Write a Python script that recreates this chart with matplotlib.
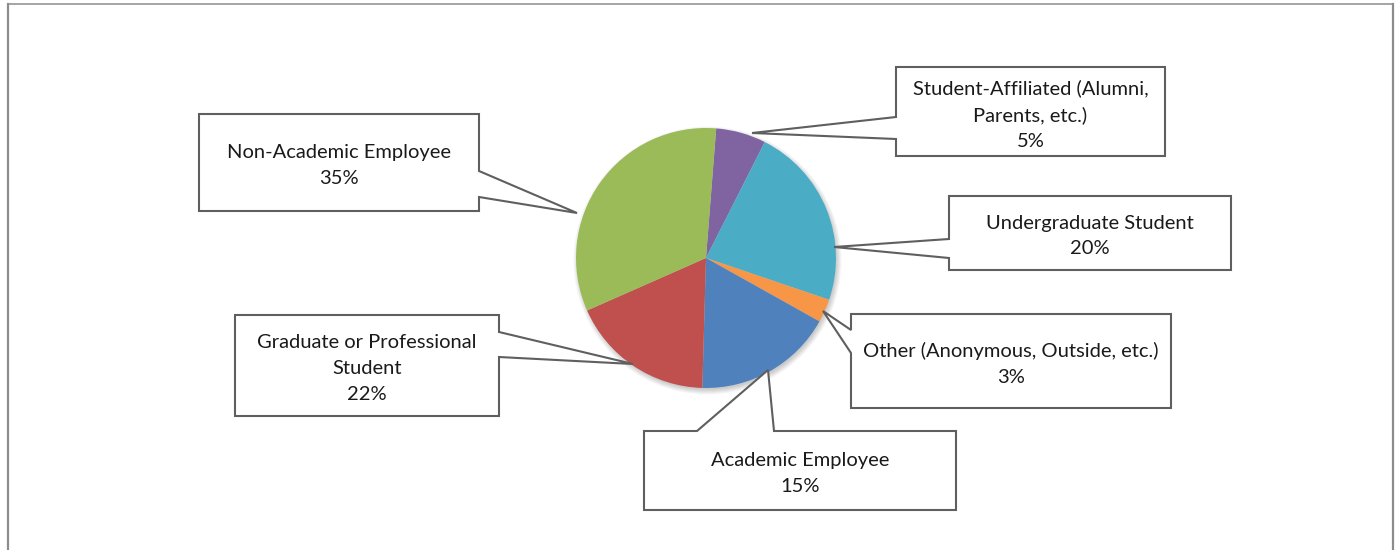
import textwrap
import matplotlib
matplotlib.use("Agg")
import matplotlib.pyplot as plt
from matplotlib.patches import Polygon, Circle
from matplotlib.lines import Line2D

# slices in drawing order, clockwise from near 12 o'clock
categories = [
    "Student-Affiliated (Alumni, Parents, etc.)",
    "Undergraduate Student",
    "Other (Anonymous, Outside, etc.)",
    "Academic Employee",
    "Graduate or Professional Student",
    "Non-Academic Employee",
]
# wedge sizes as drawn in the picture
shares = [6.2, 22.7, 2.9, 17.3, 17.9, 32.8]
# percentages printed on the callouts
pct_labels = ["5%", "20%", "3%", "15%", "22%", "35%"]
colors = ["#8064A2", "#4BACC6", "#F79646", "#4F81BD", "#C0504D", "#9BBB59"]

W, H = 1396, 550

# callout layout in pixels: box (left, top, right, bottom), side of notch,
# notch start/end along that side, tip point, wrap width
callouts = [
    ((896, 67, 1165, 156), "left", (117, 139), (752, 133), 27),
    ((949, 196, 1231, 270), "left", (239, 258), (834, 247), 30),
    ((851, 314, 1171, 408), "left", (330, 353), (823, 311), 40),
    ((644, 431, 956, 510), "top", (697, 774), (768, 370), 30),
    ((235, 315, 499, 416), "right", (332, 357), (633, 364), 24),
    ((199, 114, 479, 211), "right", (171, 197), (577, 213), 30),
]


def py(y):
    # pixel row (top-down) to data y (bottom-up)
    return H - y


def callout_shape(box, side, notch, tip):
    l, t, r, b = box
    if side == "right":
        pts = [(l, t), (r, t), (r, notch[0]), tip, (r, notch[1]), (r, b), (l, b)]
    elif side == "left":
        pts = [(l, t), (r, t), (r, b), (l, b), (l, notch[1]), tip, (l, notch[0])]
    else:
        pts = [(l, t), (notch[0], t), tip, (notch[1], t), (r, t), (r, b), (l, b)]
    return [(x, py(y)) for x, y in pts]


def main():
    fig = plt.figure(figsize=(W / 100, H / 100), dpi=100)
    ax = fig.add_axes([0, 0, 1, 1])

    cx, cy, rad = 706, py(258), 130

    # soft shadow under the pie
    for k in range(6):
        ax.add_patch(Circle((cx + 1.5, cy - 2.5), rad + 4 - k, color="#000000",
                            alpha=0.035, lw=0, zorder=1))

    ax.pie(shares, colors=colors, startangle=85.5, counterclock=False,
           center=(cx, cy), radius=rad, frame=True,
           wedgeprops=dict(linewidth=0, zorder=2))
    ax.set_xlim(0, W)
    ax.set_ylim(0, H)
    ax.set_aspect("equal")
    ax.axis("off")

    for name, pct, (box, side, notch, tip, wrap) in zip(categories, pct_labels, callouts):
        poly = Polygon(callout_shape(box, side, notch, tip), closed=True,
                       facecolor="white", edgecolor="#5f5f5f", linewidth=1.5, zorder=5)
        ax.add_patch(poly)
        l, t, r, b = box
        label = textwrap.fill(name, wrap) + "\n" + pct
        ax.text((l + r) / 2, py((t + b) / 2 + 3), label, ha="center", va="center",
                fontsize=14.5, family="Lato", color="#1a1a1a",
                linespacing=1.62, zorder=6)

    # chart border (bottom edge is cut off)
    edge = "#8c8c8c"
    ax.add_line(Line2D([7.5, 7.5], [0, py(4)], color=edge, lw=1.6))
    ax.add_line(Line2D([7.5, 1392.5], [py(4), py(4)], color=edge, lw=1.1))
    ax.add_line(Line2D([1392.5, 1392.5], [0, py(4)], color=edge, lw=1.6))

    fig.savefig("out.png", dpi=100)


if __name__ == '__main__':
    main()
